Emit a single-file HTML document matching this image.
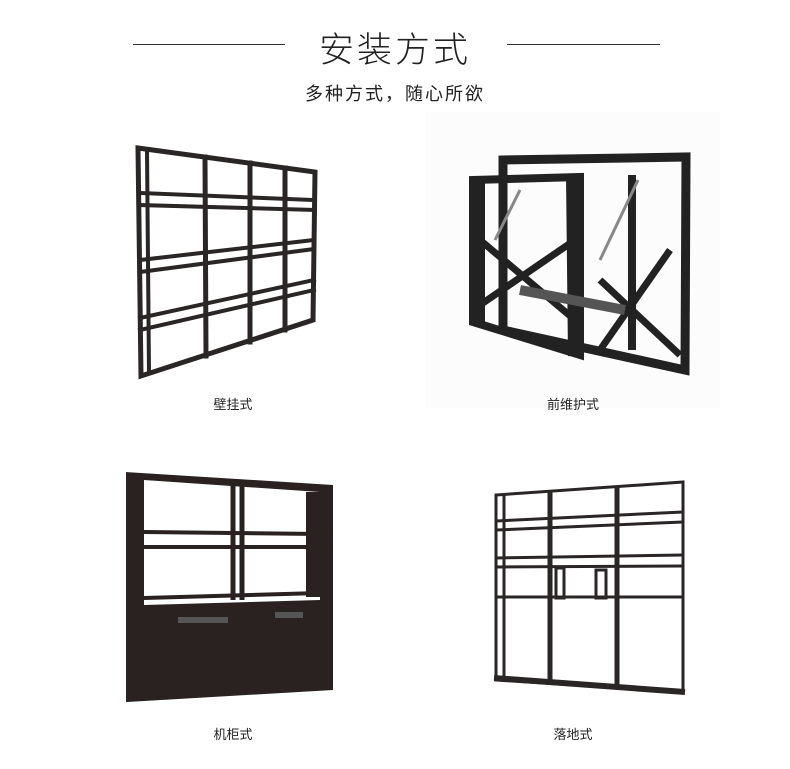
<!DOCTYPE html>
<html><head><meta charset="utf-8"><style>
body{margin:0;background:#fff;}
.wrap{position:relative;width:790px;height:769px;overflow:hidden;font-family:"Liberation Sans","Noto Sans CJK SC",sans-serif;}
.t{position:absolute;left:0;width:790px;text-align:center;color:#222;}
.lab{position:absolute;font-size:13px;color:#222;width:120px;text-align:center;}
</style></head><body><div class="wrap">
<div style="position:absolute;left:133px;top:44px;width:152px;height:1px;background:#333"></div>
<div style="position:absolute;left:507px;top:44px;width:153px;height:1px;background:#333"></div>
<div class="t" style="top:22px;font-size:35px;letter-spacing:3px;font-weight:300">安装方式</div>
<div class="t" style="top:80px;font-size:18px;letter-spacing:2px">多种方式，随心所欲</div>
<div style="position:absolute;left:425px;top:112px;width:295px;height:296px;background:#fcfcfc"></div>
<svg width="790" height="769" style="position:absolute;left:0;top:0">
<g stroke="#2a2626" fill="none" stroke-linecap="square">
<path d="M138,148 L315,172 L313,320 L141,376 Z" stroke-width="5"/>
<line x1="147" y1="150" x2="149" y2="373" stroke-width="4"/>
<line x1="205" y1="157" x2="206" y2="356" stroke-width="5"/>
<line x1="250" y1="163" x2="250" y2="342" stroke-width="5"/>
<line x1="285" y1="168" x2="285" y2="330" stroke-width="5"/>
<line x1="140" y1="193" x2="314" y2="200" stroke-width="4"/>
<line x1="140" y1="205" x2="314" y2="210" stroke-width="4"/>
<line x1="140" y1="260" x2="314" y2="240" stroke-width="4"/>
<line x1="140" y1="272" x2="314" y2="249" stroke-width="4"/>
<line x1="140" y1="318" x2="314" y2="280" stroke-width="4"/>
<line x1="140" y1="330" x2="314" y2="290" stroke-width="4"/>
</g>
<g stroke="#222" fill="none">
<path d="M503,160 L686,157 L685,370 L503,330 Z" stroke-width="9"/>
<path d="M473,180 L580,177 L580,355 L473,322 Z" stroke-width="8"/>
<line x1="480" y1="178" x2="480" y2="325" stroke-width="10"/>
<line x1="572" y1="175" x2="574" y2="356" stroke-width="12"/>
<line x1="632" y1="175" x2="632" y2="350" stroke-width="8"/>
<line x1="480" y1="240" x2="575" y2="320" stroke-width="7"/>
<line x1="480" y1="305" x2="575" y2="240" stroke-width="7"/>
<line x1="600" y1="280" x2="680" y2="355" stroke-width="7"/>
<line x1="600" y1="350" x2="670" y2="250" stroke-width="7"/>
<line x1="520" y1="290" x2="625" y2="310" stroke="#555" stroke-width="10"/>
<line x1="495" y1="240" x2="520" y2="190" stroke="#888" stroke-width="3"/>
<line x1="600" y1="260" x2="638" y2="180" stroke="#888" stroke-width="3"/>
</g>
<g>
<path d="M126,472 L333,485 L333,690 L126,702 Z" fill="#2a2220"/>
<path d="M144,480 L320,492 L320,600 L144,605 Z" fill="#fff"/>
<g stroke="#2a2220" stroke-width="4">
<line x1="144" y1="532" x2="320" y2="534"/>
<line x1="144" y1="547" x2="320" y2="547"/>
<line x1="144" y1="598" x2="320" y2="593"/>
<line x1="233" y1="485" x2="233" y2="600" stroke-width="5"/>
<line x1="242" y1="485" x2="242" y2="600" stroke-width="5"/>
</g>
<rect x="306" y="492" width="14" height="105" fill="#2a2220"/>
<rect x="178" y="617" width="50" height="6" fill="#555"/>
<rect x="275" y="612" width="28" height="6" fill="#555"/>
</g>
<g stroke="#2a2626" fill="none" stroke-width="3">
<path d="M496,495 L683,482 L683,692 L496,680 Z"/>
<line x1="504" y1="495" x2="504" y2="680"/>
<line x1="550" y1="491" x2="550" y2="684" stroke-width="5"/>
<line x1="617" y1="486" x2="617" y2="688" stroke-width="5"/>
<line x1="496" y1="521" x2="683" y2="512"/>
<line x1="496" y1="530" x2="683" y2="522"/>
<line x1="496" y1="558" x2="683" y2="555"/>
<line x1="496" y1="567" x2="683" y2="566"/>
<line x1="496" y1="597" x2="683" y2="597"/>
<line x1="494" y1="678" x2="685" y2="692" stroke-width="6"/>
<rect x="556" y="568" width="8" height="30"/><rect x="596" y="570" width="10" height="28"/>
</g>
</svg>
<div class="lab" style="left:173px;top:394px">壁挂式</div>
<div class="lab" style="left:513px;top:394px">前维护式</div>
<div class="lab" style="left:173px;top:724px">机柜式</div>
<div class="lab" style="left:513px;top:724px">落地式</div>
</div></body></html>
